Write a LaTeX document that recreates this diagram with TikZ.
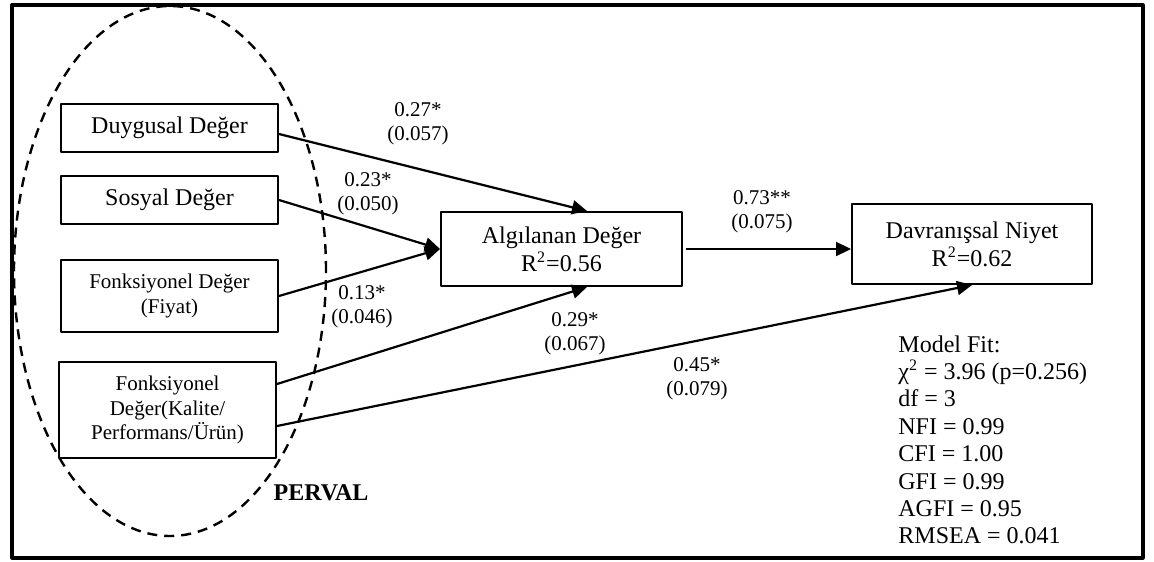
\documentclass[tikz,border=0pt]{standalone}
\usepackage{fontspec}
\setmainfont{Liberation Serif}
\usetikzlibrary{arrows.meta}
\begin{document}
\begin{tikzpicture}[x=0.5pt,y=-0.5pt,>={Triangle[length=7.5pt,width=7pt]}, line join=round,
	box/.style={draw,line width=1pt,inner sep=1pt,align=center,font=\fontsize{12}{14}\selectfont},
	smallbox/.style={box,font=\fontsize{10.5}{12.2}\selectfont},
	lbl/.style={align=center,inner sep=0pt,font=\fontsize{10.5}{12}\selectfont},
	path/.style={->,line width=1.1pt}]
	\useasboundingbox (0,0) rectangle (1154,561);
	% cerceve
	\draw[line width=1.6pt] (12,5) rectangle (1143,558);
	\draw[line width=1.2pt,dash pattern=on 5pt off 3.5pt] (170,271) ellipse [x radius=78pt, y radius=132.5pt];
	% kutular
	\node[box,minimum width=108.5pt,minimum height=24pt] (duygusal) at (169.5,128) {Duygusal Değer};
	\node[box,minimum width=108.5pt,minimum height=24pt] (sosyal) at (169.5,200) {Sosyal Değer};
	\node[smallbox,minimum width=108.5pt,minimum height=36pt] (fiyat) at (169.5,296) {Fonksiyonel Değer\\(Fiyat)};
	\node[smallbox,minimum width=108.5pt,minimum height=48pt] (kalite) at (167.5,410) {Fonksiyonel\\Değer(Kalite/\\Performans/Ürün)};
	\node[box,minimum width=120.5pt,minimum height=37pt] (algilanan) at (561.5,249) {Algılanan Değer\\R\textsuperscript{2}=0.56};
	\node[box,minimum width=120pt,minimum height=40pt] (niyet) at (972,244) {Davranışsal Niyet\\R\textsuperscript{2}=0.62};
	\node[font=\fontsize{12}{14}\selectfont\bfseries,inner sep=0pt] (perval) at (321,493) {PERVAL};
	% yollar
	\draw[path] ([yshift=-3pt]duygusal.east) -- ([xshift=12.75pt]algilanan.north);
	\draw[path] (sosyal.east) -- (algilanan.west);
	\draw[path] (fiyat.east) -- (algilanan.west);
	\draw[path] ([yshift=13pt]kalite.east) -- ([xshift=12.75pt]algilanan.south);
	\draw[path] ([yshift=-8pt]kalite.east) -- (niyet.south);
	\draw[path] ([xshift=1.5pt]algilanan.east) -- (algilanan.east -| niyet.west);
	% katsayilar
	\node[lbl] (k1) at (418,124) {0.27*\\(0.057)};
	\node[lbl] (k2) at (368,194) {0.23*\\(0.050)};
	\node[lbl] (k3) at (362,307) {0.13*\\(0.046)};
	\node[lbl] (k4) at (575,334) {0.29*\\(0.067)};
	\node[lbl] (k5) at (762,212) {0.73**\\(0.075)};
	\node[lbl] (k6) at (697,379) {0.45*\\(0.079)};
	% uyum
	\node[anchor=north west,align=left,inner sep=0pt,font=\fontsize{12}{13.7}\selectfont] (uyum) at (898,335)
	{Model Fit:\\χ\textsuperscript{2} = 3.96 (p=0.256)\\df = 3\\NFI = 0.99\\CFI = 1.00\\GFI = 0.99\\AGFI = 0.95\\RMSEA = 0.041};
\end{tikzpicture}
\end{document}
